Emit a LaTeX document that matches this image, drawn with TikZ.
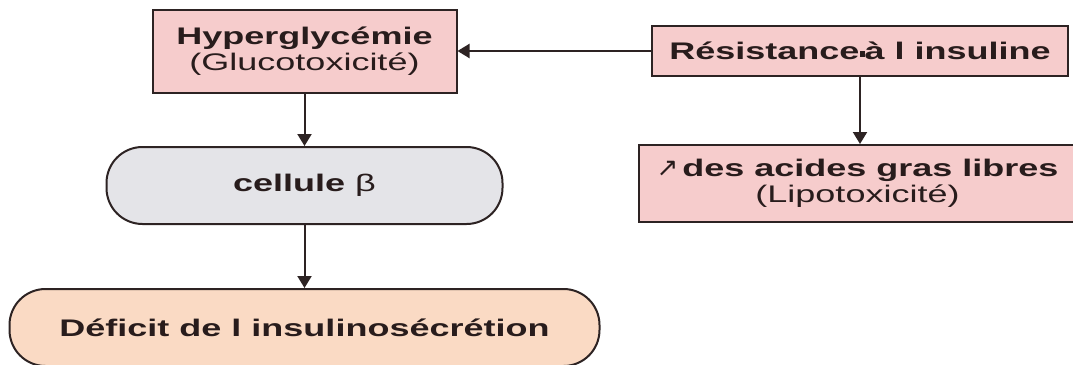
\documentclass[tikz,border=0pt]{standalone}
\usepackage{fontspec}
\setmainfont[FakeStretch=1.5]{Liberation Sans}
\newfontfamily\symfont{DejaVu Sans}
\usetikzlibrary{arrows.meta,positioning}
\definecolor{pinkfill}{RGB}{246,204,204}
\definecolor{greyfill}{RGB}{228,228,232}
\definecolor{peachfill}{RGB}{250,218,196}
\definecolor{edge}{RGB}{45,35,35}
\definecolor{ink}{RGB}{40,28,28}
\tikzset{
	>={Triangle[width=14pt,length=12pt]},
	box/.style={draw=edge,line width=2pt,rectangle,align=center,inner sep=0pt,text=ink,font=\fontsize{24}{26}\selectfont},
	pinkbox/.style={box,fill=pinkfill},
	pill/.style={box,rounded corners=36pt},
	link/.style={->,draw=edge,line width=2pt}
}

\begin{document}
\begin{tikzpicture}[x=1pt,y=-1pt]
	\useasboundingbox[fill=white] (0,0) rectangle (1073,364);
	\node[pinkbox,minimum width=304pt,minimum height=83pt] (hyper) at (304.5,51) {\textbf{Hyperglycémie}\\(Glucotoxicité)};
	\node[pinkbox,minimum width=416pt,minimum height=50pt] (resist) at (860,51) {\textbf{Résistance\rule[3pt]{5pt}{6pt}à l insuline}};
	\node[pinkbox,minimum width=437pt,minimum height=77pt] (lipo) at (857.5,183.5) {{\symfont\fontsize{26}{26}\selectfont ↗}\,\textbf{des acides gras libres}\\(Lipotoxicité)};
	\node[pill,fill=greyfill,minimum width=396pt,minimum height=77pt] (cell) at (304.5,185.5) {\textbf{cellule} β};
	\node[pill,fill=peachfill,minimum width=590pt,minimum height=77pt] (deficit) at (304.5,327.5) {\textbf{Déficit de l insulinosécrétion}};

	\draw[link] (resist.west) -- (hyper.east);
	\draw[link] (hyper.south) -- (cell.north);
	\draw[link] (cell.south) -- (deficit.north);
	\draw[link] (resist.south) -- (resist.south |- lipo.north);
\end{tikzpicture}
\end{document}
